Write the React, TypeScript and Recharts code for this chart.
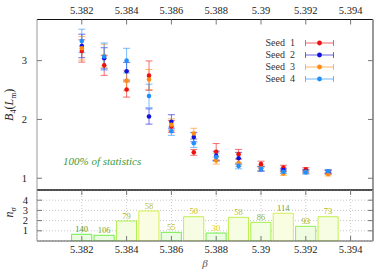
import React from "react";
import {
  ScatterChart,
  Scatter,
  BarChart,
  Bar,
  Cell,
  XAxis,
  YAxis,
  ErrorBar,
  Legend,
  LabelList,
  CartesianGrid,
} from "recharts";

const betas = [5.382, 5.383, 5.384, 5.385, 5.386, 5.387, 5.388, 5.389, 5.39, 5.391, 5.392, 5.393];

const seed1 = [3.165, 2.92, 2.51, 2.745, 1.88, 1.44, 1.45, 1.41, 1.24, 1.18, 1.15, 1.11];
const seed1Err = [0.19, 0.17, 0.13, 0.25, 0.1, 0.05, 0.14, 0.08, 0.05, 0.04, 0.03, 0.03];
const seed2 = [3.25, 3.04, 2.82, 2.05, 1.96, 1.7, 1.38, 1.34, 1.16, 1.14, 1.12, 1.1];
const seed2Err = [0.2, 0.18, 0.15, 0.13, 0.12, 0.08, 0.08, 0.1, 0.04, 0.03, 0.03, 0.03];
const seed3 = [3.21, 3.08, 2.66, 2.68, 1.91, 1.76, 1.3, 1.26, 1.17, 1.08, 1.11, 1.07];
const seed3Err = [0.2, 0.2, 0.17, 0.17, 0.1, 0.09, 0.06, 0.06, 0.04, 0.03, 0.03, 0.03];
const seed4 = [3.335, 3.07, 3.0, 2.4, 1.8, 1.595, 1.36, 1.21, 1.16, 1.11, 1.1, 1.12];
const seed4Err = [0.2, 0.23, 0.21, 0.2, 0.07, 0.07, 0.07, 0.05, 0.04, 0.03, 0.03, 0.03];

const nSigma = [0.66, 0.56, 1.96, 2.94, 0.85, 2.38, 0.78, 2.32, 1.83, 2.72, 1.44, 2.38];
const counts = [140, 106, 79, 58, 55, 50, 30, 58, 86, 114, 93, 73];

const betaTicks = [5.382, 5.384, 5.386, 5.388, 5.39, 5.392, 5.394];
const bTicks = [1, 2, 3];
const nTicks = [1, 2, 3, 4];

const seedNames = ["Seed 1", "Seed 2", "Seed 3", "Seed 4"];
const seedColors = ["#ee1111", "#1111dd", "#ff8c10", "#2090ff"];

const FONT = "'Liberation Serif', 'DejaVu Serif', serif";
const W = 390;
const H = 274;
const M_LEFT = 36; // + 1px axis width = 37
const M_RIGHT = 16;
const PANEL_TOP = 18.5; // + 1px axis height
const PANEL_MID = 190;
const PANEL_BOT = 241;
const TICK = 5;
const BETA_DOMAIN: [number, number] = [5.38, 5.395];

const seeds = [
  [seed1, seed1Err],
  [seed2, seed2Err],
  [seed3, seed3Err],
  [seed4, seed4Err],
].map(([vals, errs]) => betas.map((b, i) => ({ beta: b, b4: vals[i], err: errs[i] })));

const histData = betas.map((b, i) => ({ beta: b, n: nSigma[i], count: counts[i] }));

const mix = (a: number[], b: number[], t: number) => {
  const k = Math.max(0, Math.min(1, t));
  return `rgb(${a.map((v, i) => Math.round(v + (b[i] - v) * k)).join(",")})`;
};
const countColor = (c: number) => mix([230, 205, 30], [80, 150, 40], (c - 30) / 110);
const barStroke = (n: number) => mix([110, 238, 70], [215, 240, 80], (n - 0.8) / 2);
const barFill = (n: number) => mix([236, 252, 226], [250, 253, 226], (n - 0.8) / 2);

type Side = "top" | "bottom" | "left" | "right";

// tick label plus an inward-pointing tick mark
const makeTick = (side: Side, gap: number, withLabel: boolean, fontSize = 10) => (props: any) => {
  const { x, y, payload } = props;
  const txt = String(payload.value);
  const common = { fontFamily: FONT, fontSize, fill: "#222" };
  if (side === "bottom") {
    const ay = y - gap;
    return (
      <g>
        <line x1={x} y1={ay} x2={x} y2={ay - TICK} stroke="#777" />
        {withLabel && (
          <text x={x} y={y} dy="0.71em" textAnchor="middle" {...common}>
            {txt}
          </text>
        )}
      </g>
    );
  }
  if (side === "top") {
    const ay = y + gap;
    return (
      <g>
        <line x1={x} y1={ay} x2={x} y2={ay + TICK} stroke="#777" />
        {withLabel && (
          <text x={x} y={y} textAnchor="middle" {...common}>
            {txt}
          </text>
        )}
      </g>
    );
  }
  if (side === "left") {
    const ax = x + gap;
    return (
      <g>
        <line x1={ax} y1={y} x2={ax + TICK} y2={y} stroke="#777" />
        {withLabel && (
          <text x={x} y={y} dy="0.35em" textAnchor="end" {...common}>
            {txt}
          </text>
        )}
      </g>
    );
  }
  const ax = x - gap;
  return (
    <g>
      <line x1={ax} y1={y} x2={ax - TICK} y2={y} stroke="#777" />
    </g>
  );
};

const renderBTitle = (props: any) => {
  const { x, y, width, height } = props.viewBox;
  return (
    <text
      transform={`translate(${x + width - 28},${y + height / 2}) rotate(-90)`}
      textAnchor="middle"
      dy="0.35em"
      fontFamily={FONT}
      fontSize={12}
      fill="#222"
    >
      <tspan fontStyle="italic">B</tspan>
      <tspan fontSize={8} dy={2.5}>4</tspan>
      <tspan dy={-2.5}>(</tspan>
      <tspan fontStyle="italic">L</tspan>
      <tspan fontSize={8} dy={2.5}>m</tspan>
      <tspan dy={-2.5}>)</tspan>
    </text>
  );
};

const renderNTitle = (props: any) => {
  const { x, y, width, height } = props.viewBox;
  return (
    <text
      transform={`translate(${x + width - 28},${y + height / 2 - 3}) rotate(-90)`}
      textAnchor="middle"
      dy="0.35em"
      fontFamily={FONT}
      fontSize={12}
      fill="#222"
    >
      <tspan fontStyle="italic">n</tspan>
      <tspan fontStyle="italic" fontSize={8.5} dy={2.5}>σ</tspan>
    </text>
  );
};

const renderBetaTitle = (props: any) => {
  const { x, width } = props.viewBox;
  return (
    <text x={x + width / 2} y={H - 7} textAnchor="middle" fontFamily={FONT} fontStyle="italic" fontSize={11} fill="#555">
      β
    </text>
  );
};

const renderCount = (props: any) => {
  const { x, y, width, value } = props;
  return (
    <text x={x + width / 2} y={y - 2.5} textAnchor="middle" fontFamily={FONT} fontSize={8.5} fill={countColor(value)}>
      {value}
    </text>
  );
};

const makeDot = (color: string) => (p: any) => <circle cx={p.cx} cy={p.cy} r={2.3} fill={color} />;

const LegendBox = () => (
  <div style={{ fontFamily: FONT, fontSize: 10, color: "#333" }}>
    {seedNames.map((name, i) => (
      <div key={name} style={{ display: "flex", alignItems: "center", height: 11.9 }}>
        <span style={{ width: 55, textAlign: "right", paddingRight: 10, whiteSpace: "pre" }}>
          {name.replace(" ", "  ")}
        </span>
        <svg width={30} height={8}>
          <g stroke={seedColors[i]} strokeOpacity={0.65}>
            <line x1={0.5} y1={4} x2={28.5} y2={4} />
            <line x1={0.5} y1={1} x2={0.5} y2={7} />
            <line x1={28.5} y1={1} x2={28.5} y2={7} />
          </g>
          <circle cx={14.5} cy={4} r={2.4} fill={seedColors[i]} />
        </svg>
      </div>
    ))}
  </div>
);

const barSize = ((W - M_LEFT - M_RIGHT - 2) * 0.001) / (BETA_DOMAIN[1] - BETA_DOMAIN[0]);

const App: React.FC = () => (
  <div style={{ position: "absolute", left: 0, top: 0, width: W, height: H, background: "#fff" }}>
    <div style={{ position: "absolute", left: 0, top: 0 }}>
      <ScatterChart
        width={W}
        height={H}
        margin={{ top: PANEL_TOP, right: M_RIGHT, bottom: H - PANEL_MID - 1, left: M_LEFT }}
      >
        <XAxis
          xAxisId="top"
          orientation="top"
          type="number"
          dataKey="beta"
          domain={BETA_DOMAIN}
          allowDataOverflow
          ticks={betaTicks}
          interval={0}
          height={1}
          tickSize={0}
          tickMargin={6}
          tickLine={false}
          tick={makeTick("top", 6, true, 10.5)}
          axisLine={{ stroke: "#111" }}
        />
        <XAxis
          xAxisId="bottom"
          orientation="bottom"
          type="number"
          dataKey="beta"
          domain={BETA_DOMAIN}
          allowDataOverflow
          ticks={betaTicks}
          height={1}
          tick={false}
          tickLine={false}
          axisLine={{ stroke: "#111" }}
        />
        <YAxis
          yAxisId="left"
          type="number"
          dataKey="b4"
          domain={[0.8, 3.7]}
          allowDataOverflow
          ticks={bTicks}
          interval={0}
          width={1}
          tickSize={0}
          tickMargin={10}
          tickLine={false}
          tick={makeTick("left", 10, true, 10.5)}
          axisLine={{ stroke: "#999" }}
          label={renderBTitle}
        />
        <YAxis
          yAxisId="right"
          orientation="right"
          type="number"
          dataKey="b4"
          domain={[0.8, 3.7]}
          allowDataOverflow
          ticks={bTicks}
          interval={0}
          width={1}
          tickSize={0}
          tickMargin={0}
          tickLine={false}
          tick={makeTick("right", 0, false)}
          axisLine={{ stroke: "#999", strokeWidth: 2 }}
        />
        {seeds.map((data, i) => (
          <Scatter
            key={seedNames[i]}
            name={seedNames[i]}
            data={data}
            xAxisId="top"
            yAxisId="left"
            fill={seedColors[i]}
            shape={makeDot(seedColors[i])}
            isAnimationActive={false}
          >
            <ErrorBar
              dataKey="err"
              direction="y"
              width={3.5}
              stroke={seedColors[i]}
              strokeOpacity={0.6}
              strokeWidth={1}
              isAnimationActive={false}
            />
          </Scatter>
        ))}
        <Legend
          layout="vertical"
          align="center"
          verticalAlign="middle"
          content={<LegendBox />}
          wrapperStyle={{ left: 240, top: 37, width: 100 }}
        />
      </ScatterChart>
    </div>
    <div style={{ position: "absolute", left: 0, top: 0 }}>
      <BarChart
        width={W}
        height={H}
        data={histData}
        margin={{ top: PANEL_MID - 1, right: M_RIGHT, bottom: H - PANEL_BOT - 1, left: M_LEFT }}
        barCategoryGap={0}
        barGap={0}
      >
        <CartesianGrid stroke="#c8c8c8" strokeDasharray="1 2" />
        <XAxis
          type="number"
          dataKey="beta"
          domain={BETA_DOMAIN}
          allowDataOverflow
          ticks={betaTicks}
          interval={0}
          height={1}
          tickSize={0}
          tickMargin={5}
          tickLine={false}
          tick={makeTick("bottom", 5, true, 10.5)}
          axisLine={{ stroke: "#555" }}
          label={renderBetaTitle}
        />
        <XAxis
          xAxisId="t"
          orientation="top"
          type="number"
          dataKey="beta"
          domain={BETA_DOMAIN}
          allowDataOverflow
          ticks={betaTicks}
          interval={0}
          height={1}
          tickSize={0}
          tickMargin={0}
          tickLine={false}
          tick={makeTick("top", 0, false)}
          axisLine={{ stroke: "#111" }}
        />
        <YAxis
          type="number"
          domain={[0, 5]}
          allowDataOverflow
          ticks={nTicks}
          interval={0}
          width={1}
          tickSize={0}
          tickMargin={9}
          tickLine={false}
          tick={makeTick("left", 9, true, 10.5)}
          axisLine={{ stroke: "#999" }}
          label={renderNTitle}
        />
        <YAxis
          yAxisId="r"
          orientation="right"
          type="number"
          domain={[0, 5]}
          allowDataOverflow
          ticks={nTicks}
          interval={0}
          width={1}
          tickSize={0}
          tickMargin={0}
          tickLine={false}
          tick={makeTick("right", 0, false)}
          axisLine={{ stroke: "#999", strokeWidth: 2 }}
        />
        <Bar dataKey="n" barSize={barSize} strokeWidth={1} isAnimationActive={false}>
          {histData.map((d) => (
            <Cell key={d.beta} fill={barFill(d.n)} stroke={barStroke(d.n)} />
          ))}
          <LabelList dataKey="count" content={renderCount} />
        </Bar>
      </BarChart>
    </div>
    <div
      style={{
        position: "absolute",
        left: 63,
        top: 154,
        fontFamily: FONT,
        fontStyle: "italic",
        fontSize: 11,
        lineHeight: "14px",
        color: "#3d9a3d",
        whiteSpace: "nowrap",
      }}
    >
      100% of statistics
    </div>
  </div>
);

export default App;
